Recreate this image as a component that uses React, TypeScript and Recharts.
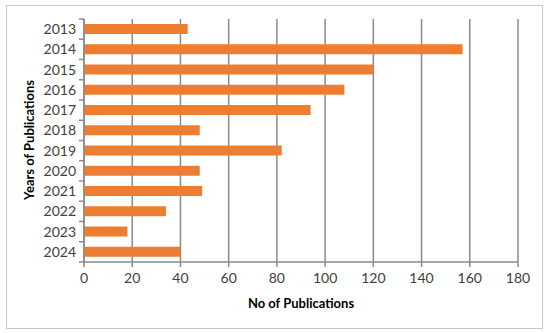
import { BarChart, Bar, XAxis, YAxis, CartesianGrid, Label } from 'recharts';

const years = ['2013', '2014', '2015', '2016', '2017', '2018', '2019', '2020', '2021', '2022', '2023', '2024'];
const publications = [43, 157, 120, 108, 94, 48, 82, 48, 49, 34, 18, 40];
const xTicks = [0, 20, 40, 60, 80, 100, 120, 140, 160, 180];

const W = 550;
const H = 333;
const MARGIN = { top: 19, right: 32, bottom: 21, left: 0 };
const X_AXIS_H = 50;
const Y_AXIS_W = 84;
const PLOT_H = H - MARGIN.top - MARGIN.bottom - X_AXIS_H;

const FONT = 'Lato, "Open Sans", sans-serif';
const AXIS_GRAY = '#8a8a8a';

const data = years.map((year, i) => ({ year, count: publications[i] }));

// category ticks in the original sit on the band edges, not centres
const YearTick = (props: any) => {
    const { x, y, payload, index } = props;
    const band = PLOT_H / years.length;
    const axisX = x + 8;
    return (
        <g>
            <text x={x} y={y} dy="0.35em" textAnchor="end" fontSize={14} fill="#404040" fontFamily={FONT}>
                {payload.value}
            </text>
            <line x1={axisX - 5} x2={axisX} y1={y - band / 2} y2={y - band / 2} stroke={AXIS_GRAY} strokeWidth={1.5} />
            {index === years.length - 1 ? (
                <line x1={axisX - 5} x2={axisX} y1={y + band / 2} y2={y + band / 2} stroke={AXIS_GRAY} strokeWidth={1.5} />
            ) : null}
        </g>
    );
};

export default function App() {
    return (
        <div style={{ position: 'absolute', left: 0, top: 0, width: W, height: H, background: '#fff' }}>
            <div
                style={{
                    position: 'absolute',
                    left: 6,
                    top: 5,
                    width: 535,
                    height: 322,
                    border: '1px solid #c8c8c8',
                }}
            />
            <div style={{ position: 'absolute', left: 0, top: 0 }}>
                <BarChart width={W} height={H} data={data} layout="vertical" margin={MARGIN} barCategoryGap="25%">
                    <CartesianGrid horizontal={false} stroke={AXIS_GRAY} strokeWidth={1.5} />
                    <XAxis
                        type="number"
                        domain={[0, 180]}
                        ticks={xTicks}
                        height={X_AXIS_H}
                        tickSize={5}
                        tickMargin={6}
                        stroke={AXIS_GRAY}
                        strokeWidth={1.5}
                        tick={{ fontSize: 14, fill: '#404040', fontFamily: FONT }}
                    >
                        <Label
                            content={() => (
                                <text x={301} y={308} textAnchor="middle" fontSize={13} fontWeight="bold" fill="#000" fontFamily={FONT}>
                                    No of Publications
                                </text>
                            )}
                        />
                    </XAxis>
                    <YAxis
                        type="category"
                        dataKey="year"
                        width={Y_AXIS_W}
                        tickSize={0}
                        tickMargin={8}
                        stroke={AXIS_GRAY}
                        strokeWidth={1.5}
                        tick={<YearTick />}
                        interval={0}
                    >
                        <Label
                            content={() => (
                                <text
                                    x={34}
                                    y={140}
                                    transform="rotate(-90 34 140)"
                                    textAnchor="middle"
                                    fontSize={13}
                                    fontWeight="bold"
                                    fill="#000"
                                    fontFamily={FONT}
                                >
                                    Years of Publications
                                </text>
                            )}
                        />
                    </YAxis>
                    <Bar dataKey="count" fill="#ED7D31" isAnimationActive={false} />
                </BarChart>
            </div>
        </div>
    );
}
